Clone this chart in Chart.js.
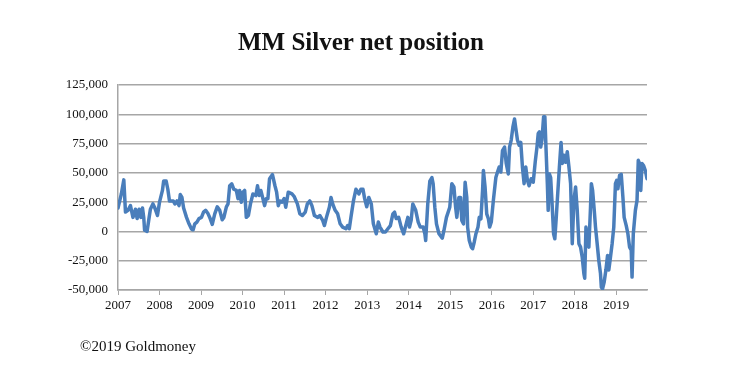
<!DOCTYPE html>
<html>
<head>
<meta charset="utf-8">
<script src="https://cdn.jsdelivr.net/npm/chart.js@4.4.0/dist/chart.umd.min.js"></script>
<style>
  body { margin: 0; background: #fff; }
  #wrap { position: relative; width: 739px; height: 391px; }
  #title { position: absolute; left: 0; width: 722px; top: 28px; text-align: center;
           font: bold 25px "Liberation Serif", serif; color: #111; }
  #footer { position: absolute; left: 80px; top: 338px; font: 15px "Liberation Serif", serif; color: #111; }
</style>
</head>
<body>
<div id="wrap">
  <canvas id="silverChart" width="739" height="391"></canvas>
  <div id="title">MM Silver net position</div>
  <div id="footer">©2019 Goldmoney</div>
</div>
<script>
// decimal year, net position in contracts
const dates = [
    2007.00, 2007.08, 2007.14, 2007.18, 2007.24, 2007.30, 2007.36, 2007.42, 2007.46, 2007.51,
    2007.55, 2007.59, 2007.62, 2007.64, 2007.70, 2007.75, 2007.78, 2007.84, 2007.88, 2007.95,
    2008.00, 2008.07, 2008.10, 2008.16, 2008.20, 2008.24, 2008.33, 2008.37, 2008.42, 2008.47,
    2008.50, 2008.54, 2008.58, 2008.65, 2008.71, 2008.77, 2008.81, 2008.85, 2008.90, 2008.95,
    2009.01, 2009.06, 2009.11, 2009.17, 2009.22, 2009.27, 2009.33, 2009.39, 2009.45, 2009.51,
    2009.55, 2009.61, 2009.65, 2009.69, 2009.74, 2009.79, 2009.85, 2009.89, 2009.93, 2009.97,
    2010.01, 2010.05, 2010.09, 2010.14, 2010.19, 2010.25, 2010.32, 2010.36, 2010.40, 2010.44,
    2010.49, 2010.53, 2010.57, 2010.61, 2010.65, 2010.72, 2010.78, 2010.82, 2010.86, 2010.90,
    2010.95, 2011.00, 2011.04, 2011.10, 2011.19, 2011.24, 2011.32, 2011.38, 2011.44, 2011.51,
    2011.56, 2011.62, 2011.67, 2011.73, 2011.81, 2011.86, 2011.93, 2011.97, 2012.02, 2012.09,
    2012.13, 2012.17, 2012.23, 2012.29, 2012.35, 2012.41, 2012.49, 2012.53, 2012.57, 2012.61,
    2012.67, 2012.73, 2012.80, 2012.85, 2012.90, 2012.94, 2012.99, 2013.04, 2013.10, 2013.15,
    2013.22, 2013.27, 2013.31, 2013.38, 2013.44, 2013.50, 2013.56, 2013.62, 2013.66, 2013.70,
    2013.76, 2013.82, 2013.88, 2013.93, 2013.98, 2014.02, 2014.06, 2014.10, 2014.17, 2014.23,
    2014.28, 2014.35, 2014.39, 2014.41, 2014.46, 2014.51, 2014.56, 2014.59, 2014.63, 2014.67,
    2014.73, 2014.81, 2014.85, 2014.91, 2014.99, 2015.04, 2015.09, 2015.13, 2015.16, 2015.21,
    2015.25, 2015.28, 2015.32, 2015.36, 2015.40, 2015.42, 2015.46, 2015.51, 2015.54, 2015.58,
    2015.62, 2015.67, 2015.70, 2015.74, 2015.78, 2015.80, 2015.84, 2015.88, 2015.92, 2015.95,
    2015.99, 2016.04, 2016.10, 2016.14, 2016.18, 2016.22, 2016.26, 2016.31, 2016.35, 2016.40,
    2016.43, 2016.47, 2016.51, 2016.55, 2016.58, 2016.62, 2016.66, 2016.70, 2016.74, 2016.78,
    2016.82, 2016.86, 2016.90, 2016.95, 2017.00, 2017.05, 2017.09, 2017.12, 2017.15, 2017.18,
    2017.21, 2017.25, 2017.28, 2017.31, 2017.34, 2017.36, 2017.39, 2017.42, 2017.45, 2017.49,
    2017.52, 2017.55, 2017.60, 2017.63, 2017.67, 2017.70, 2017.74, 2017.78, 2017.82, 2017.86,
    2017.90, 2017.94, 2017.98, 2018.02, 2018.06, 2018.10, 2018.14, 2018.18, 2018.22, 2018.24,
    2018.27, 2018.30, 2018.34, 2018.38, 2018.40, 2018.43, 2018.47, 2018.50, 2018.54, 2018.58,
    2018.62, 2018.64, 2018.67, 2018.71, 2018.75, 2018.79, 2018.82, 2018.86, 2018.90, 2018.94,
    2018.98, 2019.01, 2019.04, 2019.08, 2019.12, 2019.16, 2019.19, 2019.24, 2019.28, 2019.32,
    2019.36, 2019.38, 2019.41, 2019.46, 2019.50, 2019.53, 2019.56, 2019.59, 2019.62, 2019.66,
    2019.70, 2019.74
];
const netPosition = [
    20000, 32000, 44000, 16500, 18000, 22000, 12000, 19000, 11000, 19000,
    12000, 20000, 12000, 1000, 0, 12000, 19000, 23500, 20700, 13600,
    25000, 35000, 43000, 43000, 36000, 26000, 26000, 23500, 26000, 22000,
    31500, 29000, 20000, 12000, 6500, 2000, 1400, 6500, 8000, 11000,
    12000, 16500, 18000, 15000, 11000, 6000, 15000, 21000, 18000, 10000,
    12000, 21000, 23500, 39000, 40600, 36000, 35000, 28000, 35000, 25000,
    33500, 35000, 12000, 13600, 23500, 32000, 30600, 39000, 30600, 35000,
    28000, 22000, 28000, 28000, 45000, 48500, 39000, 33500, 22000, 26000,
    25000, 28000, 20700, 33500, 32000, 30000, 23500, 15000, 13600, 16500,
    23500, 26000, 22000, 13600, 12000, 13600, 9400, 5000, 12000, 20700,
    29000, 23500, 18000, 15000, 6500, 3700, 2300, 5000, 2300, 12000,
    26000, 36000, 32000, 36000, 36000, 28000, 21000, 29000, 23500, 6500,
    -2000, 8000, 3700, -500, -500, 2300, 5000, 15000, 16500, 11000,
    12000, 3700, -2000, 5000, 12000, 3700, 9400, 23500, 18000, 8000,
    3700, 3700, -2000, -7700, 23500, 43000, 46000, 40600, 20700, 6500,
    -2000, -5700, 800, 12000, 20700, 40800, 38000, 21000, 12000, 29000,
    29000, 9400, 6500, 42000, 29000, 3700, -7700, -13400, -14800, -9000,
    -2000, 3700, 12000, 10800, 35000, 52000, 38000, 15000, 10800, 3700,
    8000, 26500, 46000, 50700, 55000, 50700, 69000, 72000, 58000, 49000,
    72000, 78000, 89000, 96000, 88000, 78000, 73500, 76000, 55000, 40800,
    55000, 43600, 39000, 45000, 42000, 60000, 72000, 83500, 85000, 72000,
    78000, 98000, 98000, 69000, 40800, 18000, 49000, 46000, 26500, -2000,
    -6300, 9400, 38000, 55000, 76000, 58000, 65000, 59000, 68000, 55000,
    40800, -10500, 26500, 38000, 18000, -10500, -13400, -22000, -36000, -40000,
    3700, -7700, -13400, 21000, 40800, 35000, 18000, 3700, -10500, -25000,
    -36000, -47600, -49000, -43000, -33000, -20500, -33000, -22000, -10500, 3700,
    40800, 43600, 36500, 48000, 48700, 29000, 12000, 5000, -2000, -13400,
    -16000, -39000, -2000, 18000, 26500, 60700, 58000, 35000, 58000, 56000,
    52000, 45000
];
const yearTicks = [2007, 2008, 2009, 2010, 2011, 2012, 2013, 2014, 2015, 2016, 2017, 2018, 2019];
const yMin = -50000, yMax = 125000, yStep = 25000;

const points = dates.map((d, i) => ({ x: d, y: netPosition[i] }));
const gridGrey = '#a6a6a6';
const axisFont = { family: '"Liberation Serif", serif', size: 13 };

new Chart(document.getElementById('silverChart'), {
    type: 'line',
    data: {
        datasets: [{
            data: points,
            borderColor: '#4a7ebb',
            borderWidth: 3.5,
            pointRadius: 0,
            tension: 0,
            borderJoinStyle: 'round',
            borderCapStyle: 'round',
            fill: false,
        }]
    },
    options: {
        responsive: false,
        animation: false,
        devicePixelRatio: 1,
        layout: { padding: { left: 0, right: 92, top: 85, bottom: 0 } },
        plugins: { legend: { display: false }, tooltip: { enabled: false } },
        scales: {
            x: {
                type: 'linear',
                min: 2007,
                max: 2019.74,
                afterFit: (s) => { s.height = 101; },
                afterBuildTicks: (s) => { s.ticks = yearTicks.map(v => ({ value: v })); },
                ticks: {
                    callback: (v) => String(v),
                    color: '#111',
                    font: axisFont,
                    padding: 3,
                    maxRotation: 0,
                    autoSkip: false,
                },
                grid: { drawOnChartArea: false, drawTicks: true, tickLength: 5, color: gridGrey },
                border: { color: gridGrey, width: 1.5 },
            },
            y: {
                min: yMin,
                max: yMax,
                afterFit: (s) => { s.width = 118; },
                ticks: {
                    stepSize: yStep,
                    callback: (v) => v.toLocaleString('en-US'),
                    color: '#111',
                    font: axisFont,
                    padding: 10,
                },
                grid: { drawTicks: false, color: gridGrey, lineWidth: 1.5 },
                border: { color: gridGrey, width: 1.5 },
            }
        }
    },
});
</script>
</body>
</html>
